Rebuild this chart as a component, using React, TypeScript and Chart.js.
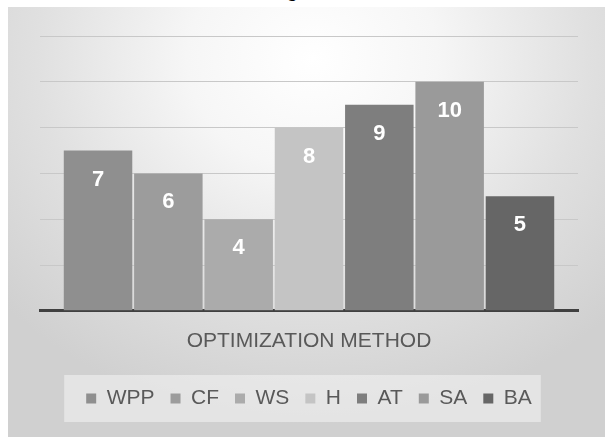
import React, { useEffect, useRef } from "react";
import { Chart, registerables } from "chart.js";

Chart.register(...registerables);

// Methods compared and the score each one received
const methods = ["WPP", "CF", "WS", "H", "AT", "SA", "BA"];
const scores = [7, 6, 4, 8, 9, 10, 5];
const barColors = ["#8f8f8f", "#9c9c9c", "#ababab", "#c4c4c4", "#7e7e7e", "#9a9a9a", "#666666"];
const axisTitle = "OPTIMIZATION METHOD";
const yMin = 0;
const yMax = 12;
const yStep = 2;

const FONT = "'Liberation Sans', Arial, sans-serif";

// White value labels placed just inside the top of each bar
const valueLabels = {
  id: "valueLabels",
  afterDatasetsDraw(chart: any) {
    const ctx = chart.ctx;
    ctx.save();
    ctx.fillStyle = "#ffffff";
    ctx.font = `bold 22px ${FONT}`;
    ctx.textAlign = "center";
    ctx.textBaseline = "middle";
    chart.data.datasets.forEach((ds: any, i: number) => {
      const meta = chart.getDatasetMeta(i);
      meta.data.forEach((bar: any, j: number) => {
        ctx.fillText(String(ds.data[j]), bar.x, bar.y + 29);
      });
    });
    ctx.restore();
  },
};

// Light panel behind the legend row
const legendPanel = {
  id: "legendPanel",
  beforeDraw(chart: any) {
    const lg = chart.legend;
    if (!lg || !lg.legendHitBoxes || !lg.legendHitBoxes.length) return;
    const boxes = lg.legendHitBoxes;
    const first = boxes[0];
    const last = boxes[boxes.length - 1];
    const cy = first.top + first.height / 2;
    const left = first.left - 22;
    const right = last.left + last.width + 9;
    const ctx = chart.ctx;
    ctx.save();
    ctx.fillStyle = "rgba(255,255,255,0.42)";
    ctx.fillRect(left, cy - 23.5, right - left, 47);
    ctx.restore();
  },
};

function ScoreChart() {
  const canvasRef = useRef<HTMLCanvasElement | null>(null);

  useEffect(() => {
    if (!canvasRef.current) return;
    const chart = new Chart(canvasRef.current, {
      type: "bar",
      data: {
        labels: [""],
        datasets: methods.map((m, i) => ({
          label: m,
          data: [scores[i]],
          backgroundColor: barColors[i],
          borderWidth: 0,
          categoryPercentage: 0.915,
          barPercentage: 0.974,
        })),
      },
      options: {
        animation: false,
        responsive: true,
        maintainAspectRatio: false,
        layout: { padding: { left: 32, right: 27, top: 29, bottom: 18 } },
        plugins: {
          tooltip: { enabled: false },
          legend: {
            position: "bottom",
            labels: {
              boxWidth: 10,
              boxHeight: 10,
              padding: 16,
              color: "#595959",
              font: { size: 21, family: FONT },
            },
          },
        },
        scales: {
          x: {
            grid: { display: false, drawTicks: false },
            border: { display: true, color: "#404040", width: 3 },
            ticks: { display: false },
            title: {
              display: true,
              text: axisTitle,
              color: "#595959",
              font: { size: 21, family: FONT },
              padding: { top: 18, bottom: 18 },
            },
          },
          y: {
            min: yMin,
            max: yMax,
            ticks: { display: false, stepSize: yStep },
            grid: { color: "#c8c8c8", lineWidth: 1, drawTicks: false },
            border: { display: false },
            afterFit(scale: any) {
              scale.width = 0;
            },
          },
        },
      },
      plugins: [valueLabels, legendPanel],
    } as any);
    return () => chart.destroy();
  }, []);

  return <canvas ref={canvasRef} />;
}

export default function App() {
  return (
    <>
      <div
        style={{
          position: "absolute",
          left: 0,
          top: -16,
          width: 605,
          textAlign: "center",
          fontFamily: "'Liberation Serif', 'Times New Roman', serif",
          fontWeight: "bold",
          fontSize: 16,
          lineHeight: "16px",
          color: "#000",
        }}
      >
        Figure 6
      </div>
      <div
        style={{
          position: "absolute",
          left: 8,
          top: 7,
          width: 597,
          height: 430,
          background:
            "radial-gradient(ellipse 70% 85% at 51% 12%, #ffffff 0%, #f6f6f6 30%, #e0e0e0 66%, #d0d0d0 100%)",
        }}
      >
        <ScoreChart />
      </div>
    </>
  );
}
